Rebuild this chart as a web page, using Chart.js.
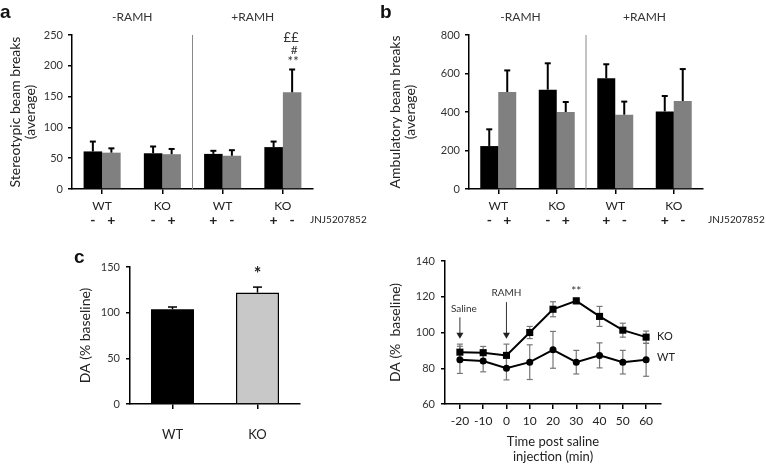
<!DOCTYPE html>
<html>
<head>
<meta charset="utf-8">
<script src="https://cdn.jsdelivr.net/npm/chart.js@4.4.1/dist/chart.umd.min.js"></script>
<style>
body { margin: 0; background: #fff; width: 766px; height: 465px; position: relative; overflow: hidden; }
canvas { position: absolute; }
</style>
</head>
<body>
<canvas id="ca" width="380" height="235" style="left:0;top:0"></canvas>
<canvas id="cb" width="386" height="235" style="left:380px;top:0"></canvas>
<canvas id="cc" width="380" height="225" style="left:0;top:240px"></canvas>
<canvas id="cd" width="386" height="225" style="left:380px;top:240px"></canvas>
<script>
// groups for panels a and b
var groupLabels = ['WT', 'KO', 'WT', 'KO'];
var blackSigns = ['-', '-', '+', '+'];
var graySigns = ['+', '+', '-', '-'];

// a: stereotypic beam breaks
var stereoBlack = [61, 58, 57, 68];
var stereoBlackErr = [16, 11, 5, 9];
var stereoGray = [59, 56.5, 54, 157];
var stereoGrayErr = [7, 8.5, 9, 37];

// b: ambulatory beam breaks
var ambBlack = [223, 516, 575, 403];
var ambBlackErr = [87, 137, 73, 80];
var ambGray = [504, 400, 386, 457];
var ambGrayErr = [112, 52, 68, 166];

// c left: DA % baseline
var daGroups = ['WT', 'KO'];
var daMean = [103.7, 122];
var daErr = [2.5, 6];

// c right: time course
var timePoints = [-20, -10, 0, 10, 20, 30, 40, 50, 60];
var koTime = [89, 88.7, 87.2, 100, 113, 117.7, 109, 101.3, 97.4];
var koTimeErr = [4.5, 3.5, 6.3, 3.4, 4.2, 1.6, 5.6, 3.9, 3.4];
var wtTime = [84.7, 84, 80, 83.4, 90.3, 83.4, 87.2, 83.4, 84.7];
var wtTimeErr = [7.6, 6, 6.5, 9.7, 10.3, 6.6, 7, 6.6, 9.2];

var FONT = 'Lato';

function drawText(ctx, s, x, y, font, align, baseline, color) {
    ctx.save();
    ctx.font = font;
    ctx.textAlign = align || 'center';
    ctx.textBaseline = baseline || 'middle';
    ctx.fillStyle = color || '#222';
    ctx.fillText(s, x, y);
    ctx.restore();
}

function vline(ctx, x, y1, y2, color, width) {
    ctx.save();
    ctx.strokeStyle = color;
    ctx.lineWidth = width;
    ctx.beginPath();
    ctx.moveTo(x, y1);
    ctx.lineTo(x, y2);
    ctx.stroke();
    ctx.restore();
}

function hline(ctx, x1, x2, y, color, width) {
    ctx.save();
    ctx.strokeStyle = color;
    ctx.lineWidth = width;
    ctx.beginPath();
    ctx.moveTo(x1, y);
    ctx.lineTo(x2, y);
    ctx.stroke();
    ctx.restore();
}

function arrow(ctx, x, y1, y2) {
    vline(ctx, x, y1, y2 - 5, '#333', 1);
    ctx.save();
    ctx.fillStyle = '#222';
    ctx.beginPath();
    ctx.moveTo(x - 3.5, y2 - 6);
    ctx.lineTo(x + 3.5, y2 - 6);
    ctx.lineTo(x, y2);
    ctx.closePath();
    ctx.fill();
    ctx.restore();
}

// upward error bars on top of bars
function barErrors(chart, errs, cap, width) {
    var ctx = chart.ctx, ys = chart.scales.y;
    errs.forEach(function(err, i) {
        var meta = chart.getDatasetMeta(i);
        var vals = chart.data.datasets[i].data;
        meta.data.forEach(function(bar, j) {
            var top = ys.getPixelForValue(vals[j] + err[j]);
            vline(ctx, bar.x, bar.y, top, '#000', width);
            hline(ctx, bar.x - cap / 2, bar.x + cap / 2, top, '#000', width);
        });
    });
}

function axisScale(extra) {
    var s = {
        grid: { drawOnChartArea: false, tickLength: 4, color: '#000', lineWidth: 1.5 },
        border: { color: '#000', width: 1.5 },
        ticks: { color: '#333', font: { family: FONT, size: 11 }, padding: 5 }
    };
    for (var k in extra) s[k] = extra[k];
    return s;
}

function beamChart(id, black, blackErr, gray, grayErr, yMax, yStep, titleLines, pad, yWidth, cfg) {
    return new Chart(document.getElementById(id), {
        type: 'bar',
        data: {
            labels: groupLabels,
            datasets: [
                { data: black, backgroundColor: '#000', categoryPercentage: 0.615, barPercentage: 1 },
                { data: gray, backgroundColor: '#808080', categoryPercentage: 0.615, barPercentage: 1 }
            ]
        },
        options: {
            responsive: false, animation: false, events: [],
            layout: { padding: pad },
            plugins: { legend: { display: false }, tooltip: { enabled: false } },
            scales: {
                x: axisScale({
                    grid: { offset: false, drawOnChartArea: false, tickLength: 5, color: '#000', lineWidth: 1.5 },
                    ticks: { color: '#222', font: { family: FONT, size: 12 }, padding: 5 },
                    afterFit: function(s) { s.height = 46; }
                }),
                y: axisScale({
                    min: 0, max: yMax,
                    ticks: { stepSize: yStep, color: '#333', font: { family: FONT, size: 11 }, padding: 5 },
                    title: { display: true, text: titleLines, color: '#222', font: { family: FONT, size: 14, lineHeight: 15 / 14 }, padding: { top: 7.5, bottom: 0 } },
                    afterFit: function(s) { s.width = yWidth; }
                })
            }
        },
        plugins: [{
            id: 'beamExtras',
            afterDatasetsDraw: function(chart) {
                barErrors(chart, [blackErr, grayErr], 6, 2);
            },
            afterDraw: function(chart) {
                var ctx = chart.ctx, xs = chart.scales.x, area = chart.chartArea;
                var c = [0, 1, 2, 3].map(function(i) { return xs.getPixelForValue(i); });
                var mid = (c[1] + c[2]) / 2;
                vline(ctx, mid, area.top, area.bottom, '#888', 1);
                drawText(ctx, '-RAMH', (c[0] + c[1]) / 2 + cfg.dx, 17, '12px ' + FONT, 'center', 'middle', '#333');
                drawText(ctx, '+RAMH', (c[2] + c[3]) / 2, 17, '12px ' + FONT, 'center', 'middle', '#333');
                [blackSigns, graySigns].forEach(function(signs, i) {
                    chart.getDatasetMeta(i).data.forEach(function(bar, j) {
                        drawText(ctx, signs[j], bar.x, area.bottom + 31, 'bold 14px ' + FONT, 'center', 'middle', '#222');
                    });
                });
                drawText(ctx, 'JNJ5207852', cfg.jnjX, area.bottom + 31, '10px ' + FONT, 'left', 'middle', '#222');
                drawText(ctx, cfg.letter, 0, 18, 'bold 19px Arial', 'left', 'alphabetic', '#111');
                if (cfg.marks) {
                    var bar = chart.getDatasetMeta(1).data[3];
                    var top = chart.scales.y.getPixelForValue(gray[3] + grayErr[3]);
                    drawText(ctx, '**', bar.x + 1, top - 8, '13px ' + FONT, 'center', 'middle', '#333');
                    drawText(ctx, '#', bar.x + 2, top - 19, '12px ' + FONT, 'center', 'middle', '#333');
                    drawText(ctx, '££', bar.x - 1, top - 32, '13px ' + FONT, 'center', 'middle', '#333');
                }
            }
        }]
    });
}

beamChart('ca', stereoBlack, stereoBlackErr, stereoGray, stereoGrayErr, 250, 50,
    ['Stereotypic beam breaks', '(average)'],
    { left: 0, top: 35, right: 67, bottom: 0 }, 72,
    { dx: 0, jnjX: 310, letter: 'a', marks: true });

beamChart('cb', ambBlack, ambBlackErr, ambGray, ambGrayErr, 800, 200,
    ['Ambulatory beam breaks', '(average)'],
    { left: 0, top: 35, right: 63, bottom: 0 }, 89,
    { dx: -7, jnjX: 328, letter: 'b', marks: false });

// c left: DA bars
new Chart(document.getElementById('cc'), {
    type: 'bar',
    data: {
        labels: daGroups,
        datasets: [{
            data: daMean,
            backgroundColor: ['#000', '#c8c8c8'],
            borderColor: '#000',
            borderWidth: [0, 1.5],
            categoryPercentage: 1, barPercentage: 0.506
        }]
    },
    options: {
        responsive: false, animation: false, events: [],
        layout: { padding: { left: 70, top: 27, right: 80, bottom: 0 } },
        plugins: { legend: { display: false }, tooltip: { enabled: false } },
        scales: {
            x: axisScale({
                grid: { offset: false, drawOnChartArea: false, tickLength: 5, color: '#000', lineWidth: 1.5 },
                ticks: { color: '#222', font: { family: FONT, size: 13 }, padding: 18 },
                afterFit: function(s) { s.height = 61; }
            }),
            y: axisScale({
                min: 0, max: 150,
                ticks: { stepSize: 50, color: '#333', font: { family: FONT, size: 11 }, padding: 6 },
                title: { display: true, text: 'DA (% baseline)', color: '#222', font: { family: FONT, size: 14, lineHeight: 15 / 14 }, padding: { top: 7.5, bottom: 0 } },
                afterFit: function(s) { s.width = 60; }
            })
        }
    },
    plugins: [{
        id: 'daExtras',
        afterDatasetsDraw: function(chart) {
            barErrors(chart, [daErr], 9, 1.5);
        },
        afterDraw: function(chart) {
            var ctx = chart.ctx;
            var bar = chart.getDatasetMeta(0).data[1];
            var top = chart.scales.y.getPixelForValue(daMean[1] + daErr[1]);
            drawText(ctx, '*', bar.x, top - 13, 'bold 18px ' + FONT, 'center', 'middle', '#222');
            drawText(ctx, 'c', 74, 23, 'bold 19px Arial', 'left', 'alphabetic', '#111');
        }
    }]
});

// c right: time course
function pts(vals) {
    return timePoints.map(function(t, i) { return { x: t, y: vals[i] }; });
}

new Chart(document.getElementById('cd'), {
    type: 'line',
    data: {
        datasets: [
            { data: pts(koTime), borderColor: '#000', borderWidth: 2, pointStyle: 'rect', pointRadius: 5,
              pointBackgroundColor: '#000', pointBorderColor: '#000', pointBorderWidth: 0, tension: 0 },
            { data: pts(wtTime), borderColor: '#000', borderWidth: 2, pointStyle: 'circle', pointRadius: 3.5,
              pointBackgroundColor: '#000', pointBorderColor: '#000', pointBorderWidth: 0, tension: 0 }
        ]
    },
    options: {
        responsive: false, animation: false, events: [],
        layout: { padding: { left: 0, top: 21, right: 105, bottom: 0 } },
        plugins: { legend: { display: false }, tooltip: { enabled: false } },
        scales: {
            x: axisScale({
                type: 'linear', min: -26.4, max: 66.4,
                afterBuildTicks: function(s) { s.ticks = timePoints.map(function(v) { return { value: v }; }); },
                grid: { drawOnChartArea: false, tickLength: 5, color: '#000', lineWidth: 1.5 },
                ticks: { color: '#222', font: { family: FONT, size: 12 }, padding: 5 },
                title: { display: true, text: ['Time post saline', 'injection (min)'], color: '#222', font: { family: FONT, size: 13, lineHeight: 15 / 13 }, padding: { top: 0, bottom: 1 } },
                afterFit: function(s) { s.height = 61; }
            }),
            y: axisScale({
                min: 60, max: 140,
                ticks: { stepSize: 20, color: '#333', font: { family: FONT, size: 11 }, padding: 6 },
                title: { display: true, text: 'DA (%  baseline)', color: '#222', font: { family: FONT, size: 14, lineHeight: 15 / 14 }, padding: { top: 7.5, bottom: 0 } },
                afterFit: function(s) { s.width = 65; }
            })
        }
    },
    plugins: [{
        id: 'timeExtras',
        beforeDatasetsDraw: function(chart) {
            var ctx = chart.ctx, xs = chart.scales.x, ys = chart.scales.y;
            [[koTime, koTimeErr], [wtTime, wtTimeErr]].forEach(function(s) {
                s[0].forEach(function(v, i) {
                    var x = xs.getPixelForValue(timePoints[i]);
                    var lo = ys.getPixelForValue(v - s[1][i]), hi = ys.getPixelForValue(v + s[1][i]);
                    vline(ctx, x, lo, hi, '#777', 1.2);
                    hline(ctx, x - 3, x + 3, lo, '#777', 1.2);
                    hline(ctx, x - 3, x + 3, hi, '#777', 1.2);
                });
            });
        },
        afterDraw: function(chart) {
            var ctx = chart.ctx, xs = chart.scales.x, ys = chart.scales.y;
            var xS = xs.getPixelForValue(-20), xR = xs.getPixelForValue(0);
            drawText(ctx, 'Saline', xS + 4, ys.getPixelForValue(113), '10px ' + FONT, 'center', 'middle', '#333');
            arrow(ctx, xS, ys.getPixelForValue(108.5), ys.getPixelForValue(96.5));
            drawText(ctx, 'RAMH', xR, ys.getPixelForValue(122.5), '10px ' + FONT, 'center', 'middle', '#333');
            arrow(ctx, xR, ys.getPixelForValue(117), ys.getPixelForValue(96.5));
            drawText(ctx, '**', xs.getPixelForValue(30), ys.getPixelForValue(123.3), '12px ' + FONT, 'center', 'middle', '#333');
            var xEnd = xs.getPixelForValue(60) + 11;
            drawText(ctx, 'KO', xEnd, ys.getPixelForValue(97.6), '11px ' + FONT, 'left', 'middle', '#222');
            drawText(ctx, 'WT', xEnd, ys.getPixelForValue(86.3), '11px ' + FONT, 'left', 'middle', '#222');
        }
    }]
});
</script>
</body>
</html>
